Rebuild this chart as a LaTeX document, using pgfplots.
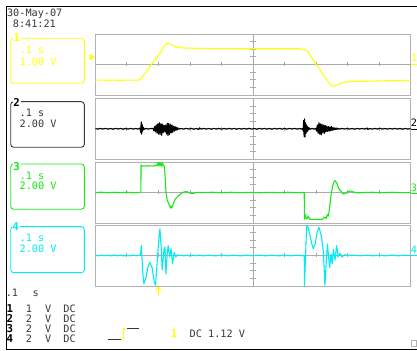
\documentclass[border=0pt]{standalone}
\usepackage{pgfplots}
\pgfplotsset{compat=1.18}
\usepackage{fontspec}
\newfontfamily\dvm{DejaVu Sans Mono}
\newcommand\scf{\dvm\fontsize{10.2bp}{12bp}\selectfont}
\newcommand\scfb{\dvm\bfseries\fontsize{10.8bp}{12bp}\selectfont}
\definecolor{cyel}{RGB}{255,255,0}
\definecolor{cblk}{RGB}{0,0,0}
\definecolor{cgrn}{RGB}{20,235,20}
\definecolor{ccyn}{RGB}{0,235,245}
\definecolor{framegray}{RGB}{178,178,178}
\definecolor{gridgray}{RGB}{170,170,170}
\definecolor{txt}{RGB}{55,55,55}
\pgfplotsset{panel/.style={scale only axis, width=315.4bp, height=61bp, anchor=south west,
  xmin=-0.2, xmax=0.8, ymin=-4, ymax=4, xtick=\empty, ytick=\empty,
  axis line style={draw=framegray, line width=0.9bp},
  every axis plot/.append style={no marks, line width=1.1bp, line join=round}}}
\newcommand\centrecross{%
  \draw[gridgray, line width=0.8bp] (axis cs:-0.2,0) -- (axis cs:0.8,0);
  \draw[gridgray, line width=0.8bp] (axis cs:0.3,-4) -- (axis cs:0.3,4);
  \pgfplotsinvokeforeach{-0.1,0,0.1,0.2,0.4,0.5,0.6,0.7}{\draw[gridgray, line width=0.8bp] (axis cs:##1,0) ++(0bp,-2bp) -- ++(0bp,4bp);}
  \pgfplotsinvokeforeach{-3,-2,-1,1,2,3}{\draw[gridgray, line width=0.8bp] (axis cs:0.3,##1) ++(-2.6bp,0bp) -- ++(5.2bp,0bp);}
}
\begin{document}
\begin{tikzpicture}
\begin{scope}[x=1bp,y=1bp]
\fill[white] (0,0) rectangle (417,351);
\draw[black, line width=1.6bp] (417,344.4) -- (6.6,344.4) -- (6.6,1.5) -- (417,1.5);
% channel boxes
\draw[cyel, line width=0.9bp, rounded corners=3bp] (10.7,267.7) rectangle (84.3,312.7);
\draw[txt, line width=0.9bp, rounded corners=3bp] (10.7,203.7) rectangle (84.3,249.3);
\draw[cgrn, line width=0.9bp, rounded corners=3bp] (10.7,141.7) rectangle (84.3,187);
\draw[ccyn, line width=0.9bp, rounded corners=3bp] (10.7,78.3) rectangle (84.3,124.3);
\node[anchor=base west, inner sep=0.6bp, fill=white, text=cyel, font=\scfb] at (12.6,309.3) {1};
\node[anchor=base west, inner sep=0.6bp, fill=white, text=black, font=\scfb] at (12.6,244.3) {2};
\node[anchor=base west, inner sep=0.6bp, fill=white, text=cgrn, font=\scfb] at (12.6,181) {3};
\node[anchor=base west, inner sep=0.6bp, fill=white, text=ccyn, font=\scfb] at (11.6,121) {4};
% texts in boxes
\node[anchor=base west, inner sep=0, text=cyel, font=\scf] at (19.5,297.7) {.1 s};
\node[anchor=base west, inner sep=0, text=cyel, font=\scf] at (19.5,286) {1.00 V};
\node[anchor=base west, inner sep=0, text=txt, font=\scf] at (19.5,234.3) {.1 s};
\node[anchor=base west, inner sep=0, text=txt, font=\scf] at (19.5,223.7) {2.00 V};
\node[anchor=base west, inner sep=0, text=cgrn, font=\scf] at (19.5,172) {.1 s};
\node[anchor=base west, inner sep=0, text=cgrn, font=\scf] at (19.5,161.4) {2.00 V};
\node[anchor=base west, inner sep=0, text=ccyn, font=\scf] at (19.5,109.3) {.1 s};
\node[anchor=base west, inner sep=0, text=ccyn, font=\scf] at (19.5,98.3) {2.00 V};
% date
\node[anchor=base west, inner sep=0, text=txt, font=\scf] at (6.9,334.3) {30-May-07};
\node[anchor=base west, inner sep=0, text=txt, font=\scf] at (12.7,323.7) {8:41:21};
% bottom list
\node[anchor=base west, inner sep=0, text=txt, font=\scf] at (5.6,55) {.1};
\node[anchor=base west, inner sep=0, text=txt, font=\scf] at (32.4,55) {s};
\foreach \n/\v/\yy in {1/1/38.3, 2/2/28.3, 3/2/18.3, 4/2/8.3}{
  \node[anchor=base west, inner sep=0, text=black, font=\scfb] at (6.4,\yy) {\n};
  \node[anchor=base west, inner sep=0, text=txt, font=\scf] at (25.8,\yy) {\v};
  \node[anchor=base west, inner sep=0, text=txt, font=\scf] at (45.0,\yy) {V};
  \node[anchor=base west, inner sep=0, text=txt, font=\scf] at (63.3,\yy) {DC};
}
% trigger info
\draw[txt, line width=0.9bp] (108.3,11.7) -- (121.2,11.7);
\draw[cyel, line width=1.2bp] (120.5,11.7) -- (123.3,11.7) -- (123.3,21.9) -- (125,21.9);
\draw[txt, line width=0.9bp] (126.7,22.2) -- (139.3,22.2);
\node[anchor=base west, inner sep=0, text=cyel, font=\scfb] at (170.6,13.7) {1};
\node[anchor=base west, inner sep=0, text=txt, font=\scf] at (189.5,13.7) {DC 1.12 V};
\draw[framegray, line width=0.8bp] (410.9,4.3) rectangle (416.3,10.8);
% channel markers
\fill[cyel] (89.3,297) -- (95,293.8) -- (89.3,290.6) -- cycle;
\draw[cyel, line width=1bp] (410.8,286) -- (417,286);
\node[anchor=base west, inner sep=0, text=cyel, font=\scf] at (410.8,289.3) {1};
\draw[black, line width=1bp] (410.8,221.7) -- (417,221.7);
\node[anchor=base west, inner sep=0, text=black, font=\scf] at (410.6,225) {2};
\draw[cgrn, line width=1bp] (410.8,157.7) -- (417,157.7);
\node[anchor=base west, inner sep=0, text=cgrn, font=\scf] at (410.6,160) {3};
\draw[ccyn, line width=1bp] (410.8,95) -- (417,95);
\node[anchor=base west, inner sep=0, text=ccyn, font=\scf] at (410.6,97.7) {4};
% trigger arrow
\draw[cyel, line width=1bp] (158.3,54.5) -- (158.3,64.3);
\draw[cyel, line width=1bp] (155.8,60.6) -- (158.3,64.3) -- (160.8,60.6);
\end{scope}

% ---------- channel 1
\begin{axis}[panel, at={(95.3bp,256bp)}]
\centrecross
\addplot[cyel] coordinates {
(-0.200,-2.06) (-0.180,-2.04) (-0.160,-2.07) (-0.140,-2.05) (-0.120,-2.07) (-0.100,-2.04)
(-0.080,-2.06) (-0.065,-2.05) (-0.058,-2.0) (-0.050,-1.6) (-0.040,-1.05) (-0.030,-0.5)
(-0.020,0.1) (-0.010,0.65) (0.000,1.2) (0.010,1.8) (0.018,2.35) (0.024,2.65) (0.031,2.76)
(0.037,2.68) (0.043,2.55) (0.050,2.42) (0.058,2.3) (0.069,2.2) (0.080,2.17) (0.100,2.14)
(0.130,2.12) (0.160,2.10) (0.200,2.08) (0.250,2.07) (0.300,2.06) (0.350,2.06) (0.400,2.06)
(0.440,2.07) (0.455,2.04) (0.462,1.95) (0.468,1.85) (0.475,1.65) (0.482,1.2) (0.490,0.65)
(0.496,0.25) (0.502,-0.05) (0.510,-0.55) (0.518,-1.05) (0.526,-1.55) (0.534,-2.0)
(0.542,-2.45) (0.548,-2.72) (0.555,-2.85) (0.562,-2.75) (0.570,-2.6) (0.580,-2.42)
(0.590,-2.32) (0.600,-2.27) (0.620,-2.22) (0.650,-2.2) (0.680,-2.18) (0.720,-2.14)
(0.760,-2.1) (0.800,-2.08)
};
\end{axis}

% ---------- channel 2
\begin{axis}[panel, at={(95.3bp,191.7bp)}]
\centrecross
\addplot[cblk] coordinates {
(-0.200,0.03) (-0.192,-0.05) (-0.184,0.05) (-0.176,-0.04) (-0.168,0.06) (-0.160,-0.05)
(-0.152,0.04) (-0.144,-0.06) (-0.136,0.05) (-0.128,-0.03) (-0.120,0.05) (-0.112,-0.06)
(-0.104,0.04) (-0.096,-0.05) (-0.088,0.06) (-0.080,-0.05) (-0.072,0.04) (-0.064,-0.05)
(-0.058,0.1) (-0.056,-0.5) (-0.0545,0.9) (-0.053,-0.7) (-0.0515,0.6) (-0.050,-0.3)
(-0.048,0.2) (-0.046,-0.1) (-0.040,0.05) (-0.032,-0.05) (-0.024,0.04)
(-0.017,0.05) (-0.0145,-0.25) (-0.012,0.3) (-0.0095,-0.4) (-0.007,0.5) (-0.0045,-0.55)
(-0.002,0.65) (0.0005,-0.7) (0.003,0.8) (0.0055,-0.75) (0.008,0.7) (0.0105,-0.85)
(0.013,0.6) (0.0155,-0.5) (0.018,0.45) (0.0205,-0.4) (0.023,0.5) (0.0255,-0.7)
(0.028,0.75) (0.0305,-0.9) (0.033,0.7) (0.0355,-0.75) (0.038,0.6) (0.0405,-0.55)
(0.043,0.5) (0.0455,-0.45) (0.048,0.35) (0.0505,-0.3) (0.053,0.3) (0.0555,-0.2)
(0.058,0.2) (0.0605,-0.15) (0.063,0.1) (0.066,-0.05)
(0.072,0.04) (0.080,-0.05) (0.088,0.06) (0.096,-0.04) (0.104,0.05) (0.112,-0.06)
(0.120,0.04) (0.128,-0.1) (0.130,0.12) (0.136,-0.04) (0.144,0.05) (0.152,-0.05)
(0.160,0.04) (0.168,-0.06) (0.176,0.05) (0.184,-0.04) (0.192,0.06) (0.200,-0.05)
(0.208,0.04) (0.216,-0.05) (0.224,0.06) (0.232,-0.04) (0.240,0.05) (0.248,-0.06)
(0.256,0.04) (0.264,-0.05) (0.272,0.05) (0.280,-0.04) (0.288,0.06) (0.296,-0.05)
(0.304,0.04) (0.312,-0.06) (0.320,0.05) (0.328,-0.04) (0.336,0.05) (0.344,-0.05)
(0.352,0.04) (0.360,-0.06) (0.368,0.05) (0.376,-0.04) (0.384,0.06) (0.392,-0.05)
(0.400,0.04) (0.408,-0.05) (0.416,0.05) (0.424,-0.04) (0.432,0.06) (0.440,-0.05)
(0.448,0.04) (0.454,-0.05)
(0.457,0.05) (0.459,-0.3) (0.4605,1.1) (0.462,-1.0) (0.4635,1.3) (0.465,-1.1)
(0.4665,0.8) (0.468,-0.6) (0.4695,0.5) (0.471,-0.4) (0.4725,0.3) (0.474,-0.25)
(0.4755,0.2) (0.477,-0.15) (0.479,0.1) (0.481,-0.05) (0.488,0.04) (0.494,-0.05)
(0.499,0.05) (0.5015,-0.3) (0.504,0.5) (0.5065,-0.6) (0.509,0.8) (0.5115,-0.7)
(0.514,0.65) (0.5165,-0.8) (0.519,0.6) (0.5215,-0.55) (0.524,0.5) (0.5265,-0.6)
(0.529,0.45) (0.5315,-0.4) (0.534,0.35) (0.5365,-0.35) (0.539,0.3) (0.5415,-0.3)
(0.544,0.25) (0.5465,-0.25) (0.549,0.3) (0.5515,-0.2) (0.554,0.15) (0.5565,-0.15)
(0.559,0.12) (0.5615,-0.1) (0.564,0.1) (0.567,-0.08) (0.570,0.06) (0.574,-0.05)
(0.582,0.05) (0.590,-0.04) (0.598,0.05) (0.606,-0.05) (0.614,0.04) (0.622,-0.06)
(0.630,0.05) (0.638,-0.04) (0.646,0.05) (0.654,-0.05) (0.662,0.1) (0.664,-0.1)
(0.670,0.04) (0.678,-0.05) (0.686,0.05) (0.694,-0.04) (0.702,0.06) (0.710,-0.05)
(0.718,0.04) (0.726,-0.05) (0.734,0.05) (0.742,-0.04) (0.750,0.06) (0.758,-0.05)
(0.766,0.04) (0.774,-0.06) (0.782,0.05) (0.790,-0.04) (0.800,0.03)
};
\end{axis}

% ---------- channel 3
\begin{axis}[panel, at={(95.3bp,128bp)}]
\centrecross
\addplot[cgrn] coordinates {
(-0.200,0.0) (-0.180,0.04) (-0.160,-0.03) (-0.140,0.03) (-0.120,-0.02) (-0.100,0.04)
(-0.080,-0.03) (-0.060,0.02) (-0.0555,0.0) (-0.0550,3.6) (-0.050,3.45) (-0.045,3.5)
(-0.040,3.45) (-0.035,3.52) (-0.030,3.45) (-0.025,3.5) (-0.020,3.48) (-0.015,3.45)
(-0.010,3.55) (-0.005,3.5) (-0.002,3.9) (0.000,3.5) (0.003,3.95) (0.005,3.5)
(0.008,3.85) (0.010,3.45) (0.013,3.9) (0.016,3.5) (0.0188,3.5) (0.0215,2.0)
(0.0242,0.0) (0.028,-1.0) (0.034,-1.6) (0.038,-2.0) (0.040,-1.8) (0.042,-2.05)
(0.046,-1.65) (0.053,-0.9) (0.063,-0.45) (0.072,-0.15) (0.080,0.05) (0.090,0.12)
(0.100,-0.05) (0.110,-0.15) (0.120,0.02) (0.140,0.0) (0.170,0.03) (0.200,-0.02)
(0.230,0.03) (0.260,-0.02) (0.290,0.02) (0.320,-0.03) (0.350,0.02) (0.380,-0.02)
(0.410,0.03) (0.440,-0.02) (0.4625,0.0)
(0.4630,-3.5) (0.465,-2.9) (0.468,-3.3) (0.471,-3.5) (0.475,-3.1) (0.480,-3.5)
(0.490,-3.55) (0.500,-3.5) (0.510,-3.55) (0.520,-3.5) (0.527,-3.2) (0.532,-3.4)
(0.536,-2.9) (0.539,-3.1) (0.543,-1.9) (0.547,-0.5) (0.552,0.8) (0.557,1.4)
(0.561,1.55) (0.566,1.2) (0.571,0.6) (0.576,0.3) (0.582,0.0) (0.587,-0.2)
(0.593,-0.1) (0.600,0.1) (0.610,0.2) (0.620,0.05) (0.630,-0.05) (0.650,0.0)
(0.680,0.03) (0.710,-0.02) (0.740,0.03) (0.770,-0.02) (0.800,0.0)
};
\end{axis}

% ---------- channel 4
\begin{axis}[panel, at={(95.3bp,65bp)}]
\centrecross
\addplot[ccyn] coordinates {
(-0.200,0.02) (-0.190,-0.04) (-0.180,0.05) (-0.170,-0.03) (-0.160,0.04) (-0.150,-0.05)
(-0.140,0.08) (-0.130,-0.04) (-0.120,0.05) (-0.110,-0.06) (-0.100,0.04) (-0.090,-0.05)
(-0.080,0.06) (-0.070,-0.04) (-0.062,0.05) (-0.057,0.0) (-0.054,1.3) (-0.050,-2.0)
(-0.046,-3.7) (-0.040,-3.0) (-0.033,-1.5) (-0.027,-0.9) (-0.020,-1.6) (-0.013,-3.5)
(-0.009,-3.9) (-0.004,-1.0) (0.002,2.5) (0.005,3.5) (0.009,1.0) (0.012,-1.9)
(0.015,-0.5) (0.018,0.8) (0.021,1.1) (0.024,-2.4) (0.028,0.2) (0.031,1.3)
(0.036,-0.2) (0.040,0.9) (0.045,-1.1) (0.050,0.4) (0.055,-0.2) (0.060,0.1)
(0.065,0.0) (0.072,0.06) (0.080,-0.05) (0.090,0.04) (0.100,-0.05) (0.110,0.05)
(0.120,-0.04) (0.130,0.06) (0.140,-0.05) (0.160,0.04) (0.180,-0.05) (0.200,0.05)
(0.220,-0.04) (0.240,0.05) (0.260,-0.05) (0.280,0.04) (0.300,-0.04) (0.320,0.05)
(0.340,-0.05) (0.360,0.04) (0.380,-0.05) (0.400,0.05) (0.420,-0.04) (0.440,0.05)
(0.455,-0.03) (0.4625,0.0) (0.4632,-3.95) (0.470,3.9) (0.475,3.7) (0.480,2.8)
(0.486,1.6) (0.491,0.9) (0.497,1.5) (0.503,3.0) (0.509,3.7) (0.514,3.0) (0.518,2.2)
(0.523,0.5) (0.528,-3.9) (0.532,-1.0) (0.536,1.5) (0.540,-0.3) (0.543,-1.6)
(0.547,0.2) (0.551,-1.1) (0.555,0.8) (0.560,-0.6) (0.565,1.3) (0.570,-0.2)
(0.576,0.3) (0.582,-0.2) (0.590,0.1) (0.600,0.0) (0.620,0.05) (0.640,-0.04)
(0.660,0.05) (0.680,-0.05) (0.700,0.04) (0.720,-0.05) (0.740,0.05) (0.760,-0.04)
(0.780,0.05) (0.800,0.0)
};
\end{axis}
\pgfresetboundingbox
\path[use as bounding box] (0,0) rectangle (417bp,351bp);
\end{tikzpicture}
\end{document}
